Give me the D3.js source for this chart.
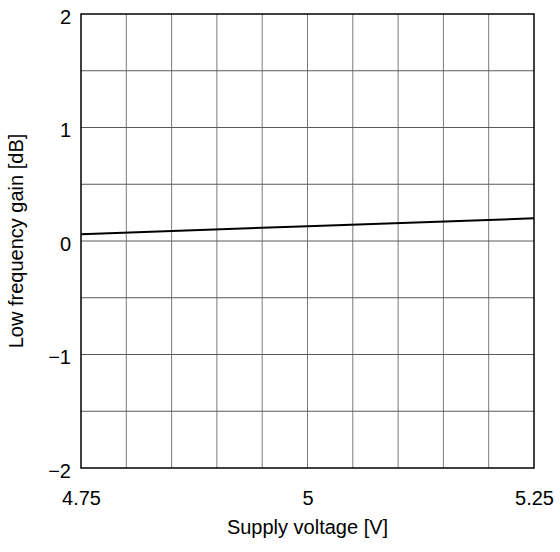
<!DOCTYPE html>
<html>
<head>
<meta charset="utf-8">
<script src="https://cdn.jsdelivr.net/npm/d3@7"></script>
<style>
  body { margin: 0; background: #fff; }
  text { font-family: "Liberation Sans", Arial, sans-serif; fill: #000; }
</style>
</head>
<body>
<div id="chart"></div>
<script>
// supply voltage sweep, V
var voltage = [4.75, 5.0, 5.25];
// low frequency gain, dB
var gain = [0.06, 0.13, 0.2];

var xTicks = [4.75, 5, 5.25];
var xTickLabels = ["4.75", "5", "5.25"];
var yTicks = [-2, -1, 0, 1, 2];
var yTickLabels = ["\u22122", "\u22121", "0", "1", "2"];

(function () {
    var width = 560, height = 552;
    var margin = {top: 14, right: 26, bottom: 84, left: 81};
    var fontSize = "20px";

    var svg = d3.select("#chart").append("svg")
        .attr("width", width)
        .attr("height", height);

    var x = d3.scaleLinear()
        .domain([4.75, 5.25])
        .range([margin.left, width - margin.right]);

    var y = d3.scaleLinear()
        .domain([-2, 2])
        .range([height - margin.bottom, margin.top]);

    // grid: 10 columns x 8 rows
    var g = svg.append("g").attr("class", "grid");
    g.selectAll("line.v")
        .data(d3.range(1, 10).map(function (i) { return 4.75 + i * 0.05; }))
        .enter().append("line")
        .attr("x1", function (d) { return x(d); })
        .attr("x2", function (d) { return x(d); })
        .attr("y1", y(-2))
        .attr("y2", y(2))
        .attr("stroke", "#7a7a7a")
        .attr("stroke-width", 1);
    g.selectAll("line.h")
        .data(d3.range(1, 8).map(function (i) { return -2 + i * 0.5; }))
        .enter().append("line")
        .attr("x1", x(4.75))
        .attr("x2", x(5.25))
        .attr("y1", function (d) { return y(d); })
        .attr("y2", function (d) { return y(d); })
        .attr("stroke", "#5a5a5a")
        .attr("stroke-width", 1);

    // frame
    svg.append("rect")
        .attr("x", x(4.75))
        .attr("y", y(2))
        .attr("width", x(5.25) - x(4.75))
        .attr("height", y(-2) - y(2))
        .attr("fill", "none")
        .attr("stroke", "#000")
        .attr("stroke-width", 1.5);

    // curve
    var line = d3.line()
        .x(function (d, i) { return x(voltage[i]); })
        .y(function (d) { return y(d); });

    svg.append("path")
        .datum(gain)
        .attr("d", line)
        .attr("fill", "none")
        .attr("stroke", "#000")
        .attr("stroke-width", 2);

    // axes (labels only, grid does the ticks)
    var xAxis = d3.axisBottom(x)
        .tickValues(xTicks)
        .tickSize(0)
        .tickPadding(23)
        .tickFormat(function (d, i) { return xTickLabels[i]; });

    svg.append("g")
        .attr("transform", "translate(0," + y(-2) + ")")
        .call(xAxis)
        .call(function (s) { s.select(".domain").remove(); })
        .selectAll("text")
        .style("font-size", fontSize)
        .style("font-family", "'Liberation Sans', Arial, sans-serif")
        .attr("fill", "#000");

    var yAxis = d3.axisLeft(y)
        .tickValues(yTicks)
        .tickSize(0)
        .tickPadding(10)
        .tickFormat(function (d, i) { return yTickLabels[i]; });

    svg.append("g")
        .attr("transform", "translate(" + x(4.75) + ",0)")
        .call(yAxis)
        .call(function (s) { s.select(".domain").remove(); })
        .selectAll("text")
        .attr("dy", "0.45em")
        .style("font-size", fontSize)
        .style("font-family", "'Liberation Sans', Arial, sans-serif")
        .attr("fill", "#000");

    svg.append("text")
        .attr("x", (x(4.75) + x(5.25)) / 2)
        .attr("y", 534)
        .attr("text-anchor", "middle")
        .style("font-size", fontSize)
        .text("Supply voltage [V]");

    svg.append("text")
        .attr("transform", "translate(23," + y(0) + ") rotate(-90)")
        .attr("text-anchor", "middle")
        .style("font-size", fontSize)
        .text("Low frequency gain [dB]");
}());
</script>
</body>
</html>
